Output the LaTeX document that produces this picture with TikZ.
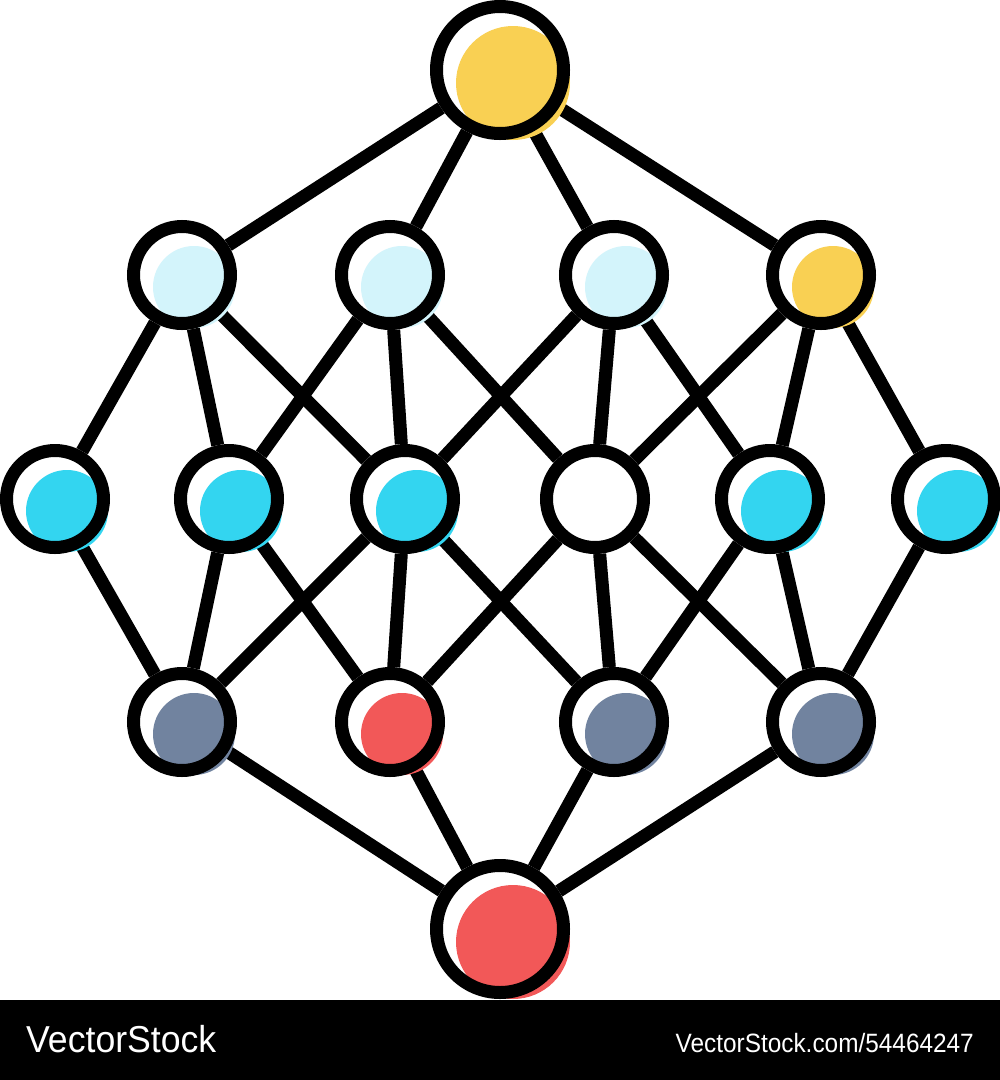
\documentclass[tikz,border=0pt]{standalone}
\usepackage{fontspec}
\setsansfont{Liberation Sans}
\usetikzlibrary{calc,backgrounds}

\definecolor{dotyellow}{HTML}{F9D053}
\definecolor{dotpale}{HTML}{D3F4FB}
\definecolor{dotcyan}{HTML}{33D5F0}
\definecolor{dotslate}{HTML}{71839F}
\definecolor{dotred}{HTML}{F25858}

\begin{document}
\begin{tikzpicture}[x=1pt,y=-1pt,line width=13pt,
  main node/.style={circle,draw,inner sep=0pt,minimum size=97pt},
  big node/.style={main node,minimum size=127pt},
  mark text/.style={text=white,inner sep=0pt,font=\sffamily}]
  \useasboundingbox (0,0) rectangle (1000,1080);
  % top and bottom
  \node[big node] (t) at (500,70) {};
  \node[big node] (bt) at (500,929) {};
  % second row
  \node[main node] (a1) at (182,275) {};
  \node[main node] (a2) at (390,275) {};
  \node[main node] (a3) at (614,275) {};
  \node[main node] (a4) at (821,275) {};
  % middle row
  \node[main node] (b1) at (55,499) {};
  \node[main node] (b2) at (229,499) {};
  \node[main node] (b3) at (405,499) {};
  \node[main node] (b4) at (595,499) {};
  \node[main node] (b5) at (770,499) {};
  \node[main node] (b6) at (946,499) {};
  % fourth row
  \node[main node] (c1) at (182,722) {};
  \node[main node] (c2) at (390,722) {};
  \node[main node] (c3) at (614,722) {};
  \node[main node] (c4) at (821,722) {};

  \begin{pgfonlayer}{background}
    \fill[white] (0,0) rectangle (1000,1000);
    \fill[black] (0,1000) rectangle (1000,1080);
    \path[line width=13pt] (t) edge (a1) edge (a2) edge (a3) edge (a4)
      (a1) edge (b1) edge (b2) edge (b3)
      (a2) edge (b2) edge (b3) edge (b4)
      (a3) edge (b3) edge (b4) edge (b5)
      (a4) edge (b4) edge (b5) edge (b6)
      (b1) edge (c1)
      (b2) edge (c1) edge (c2)
      (b3) edge (c1) edge (c2) edge (c3)
      (b4) edge (c2) edge (c3) edge (c4)
      (b5) edge (c3) edge (c4)
      (b6) edge (c4)
      (bt) edge (c1) edge (c2) edge (c3) edge (c4);
    % offset colour spots
    \fill[dotyellow] ($(t)+(13,13)$) circle[radius=57pt];
    \fill[dotred] ($(bt)+(13,13)$) circle[radius=57pt];
    \foreach \n/\c in {a1/dotpale,a2/dotpale,a3/dotpale,a4/dotyellow,
      b1/dotcyan,b2/dotcyan,b3/dotcyan,b5/dotcyan,b6/dotcyan,
      c1/dotslate,c2/dotred,c3/dotslate,c4/dotslate}
      \fill[\c] ($(\n)+(12,12)$) circle[radius=41pt];
  \end{pgfonlayer}

  \node[mark text,anchor=base west,xscale=0.95,font=\sffamily\fontsize{37.5}{40}\selectfont] (brand) at (26,1052) {VectorStock};
  \node[mark text,anchor=base east,xscale=0.92,font=\sffamily\fontsize{26.5}{30}\selectfont] (url) at (974,1052) {VectorStock.com/54464247};
\end{tikzpicture}
\end{document}
